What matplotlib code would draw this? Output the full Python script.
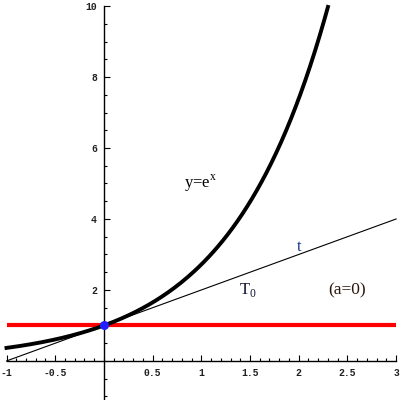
import numpy as np
import matplotlib
matplotlib.use("Agg")
import matplotlib.pyplot as plt
from matplotlib.ticker import MultipleLocator, FixedLocator

# data
curve_x = np.linspace(-1, 2.3, 200)
curve_y = np.exp(curve_x)
tangent_x = [-1, 3]
tangent_y = [0, 4]          # y = 1 + x
hline_x = [-1, 3]
hline_y = [1, 1]
point_x = [0]
point_y = [1]
xticks = [-1, -0.5, 0.5, 1, 1.5, 2, 2.5, 3]
xtick_labels = ["-1", "-0.5", "0.5", "1", "1.5", "2", "2.5", "3"]
yticks = [2, 4, 6, 8, 10]
ytick_labels = ["2", "4", "6", "8", "10"]

fig = plt.figure(figsize=(4, 4), dpi=100)
ax = fig.add_axes([0, 0, 1, 1])
ax.set_xlim(-1.067, 3.04)
ax.set_ylim(-1.10, 10.17)

ax.plot(hline_x, hline_y, color="#ff0000", lw=3.0, solid_capstyle="butt", zorder=3)
ax.plot(curve_x, curve_y, color="black", lw=2.8, zorder=4)
ax.plot(tangent_x, tangent_y, color="black", lw=0.8, zorder=4)
ax.plot(point_x, point_y, "o", color="#2020ff", ms=5.5, zorder=5)

tf = "Liberation Serif"
ax.text(0.99, 5.0, r"y=e$^\mathregular{x}$", fontsize=12, family=tf, ha="center", va="center", color="black")
ax.text(1.48, 2.0, r"T$_\mathregular{0}$", fontsize=12, family=tf, ha="center", va="center", color="#141430")
ax.text(2.0, 3.2, "t", fontsize=12, family=tf, ha="center", va="center", color="#1a3a90")
ax.text(2.5, 2.0, "(a=0)", fontsize=12.5, family=tf, ha="center", va="center", color="#2a1408")

for s in ["top", "right"]:
    ax.spines[s].set_visible(False)
ax.spines["left"].set_position(("data", 0))
ax.spines["bottom"].set_position(("data", 0))
ax.spines["bottom"].set_bounds(-1, 3)
ax.spines["left"].set_bounds(-1.10, 10)
for s in ["left", "bottom"]:
    ax.spines[s].set_linewidth(1.0)
    ax.spines[s].set_color("black")

ax.xaxis.set_major_locator(FixedLocator(xticks))
ax.set_xticklabels(xtick_labels)
ax.xaxis.set_minor_locator(MultipleLocator(0.1))
ax.yaxis.set_major_locator(FixedLocator(yticks))
ax.set_yticklabels(ytick_labels)
ax.yaxis.set_minor_locator(MultipleLocator(0.5))

ax.tick_params(which="major", direction="in", length=4, width=0.8, color="black",
               labelsize=7, labelcolor="#202020")
ax.tick_params(which="minor", direction="in", length=2.2, width=0.8, color="black")
ax.tick_params(axis="x", which="major", pad=5)
ax.tick_params(axis="y", which="major", pad=5)
for lab in ax.get_xticklabels() + ax.get_yticklabels():
    lab.set_family("Liberation Mono")
    lab.set_fontweight("bold")

fig.savefig("out.png", dpi=100)
